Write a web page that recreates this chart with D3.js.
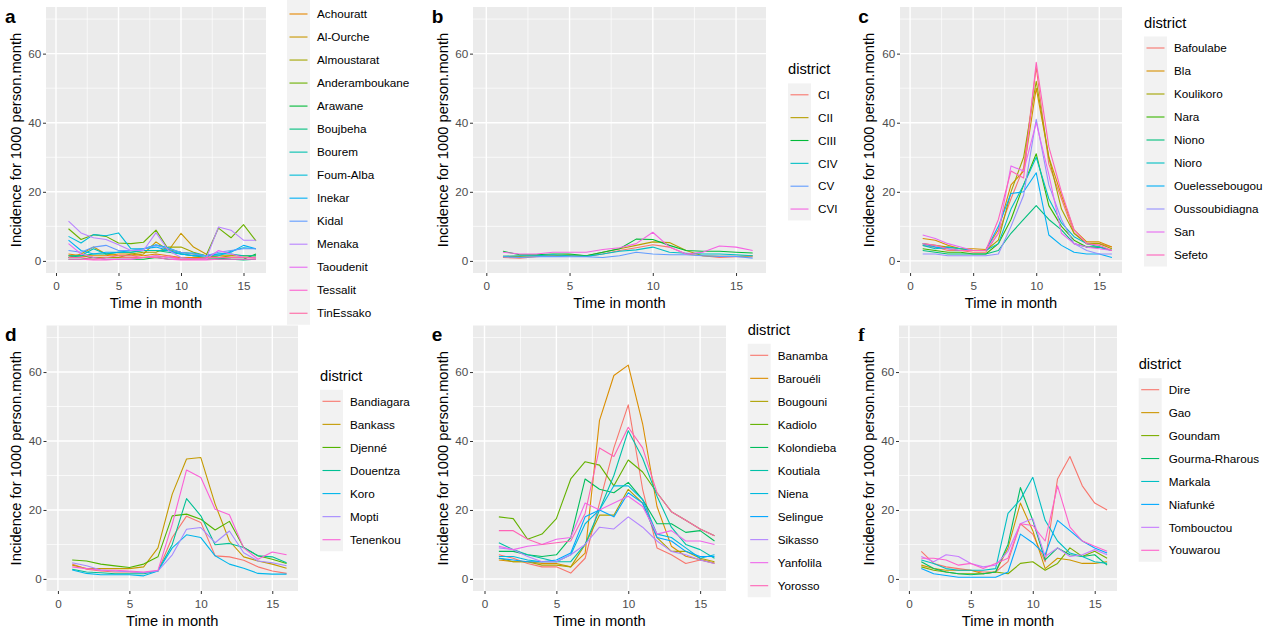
<!DOCTYPE html>
<html><head><meta charset="utf-8">
<script src="https://cdn.jsdelivr.net/npm/d3@7"></script>
<style>
body{margin:0;background:#fff}
svg{display:block}
text{font-family:"Liberation Sans", Arial, Helvetica, sans-serif}
</style>
</head><body>
<svg id="chart" width="1280" height="637"></svg>
<script>
// ---------- data ----------
const months = d3.range(1, 17);
const xTicks = [0, 5, 10, 15];
const yTicks = [0, 20, 40, 60];
const xMinorTicks = [2.5, 7.5, 12.5];
const yMinorTicks = [10, 30, 50, 70];
const xTitle = "Time in month";
const yTitle = "Incidence for 1000 person.month";
const legendTitle = "district";

const districtsA = ["Abeibara","Achouratt","Al-Ourche","Almoustarat","Anderamboukane","Arawane","Boujbeha","Bourem","Foum-Alba","Inekar","Kidal","Menaka","Taoudenit","Tessalit","TinEssako"];
const incidenceA = [
  [1.5,1.5,1,1,1,1,1,1.5,1,1,0.8,0.8,1,1,1,1],
  [2,1.5,1.5,1.5,2,2,1.5,2,1.5,1,1,1,1.5,1.5,1.5,1.5],
  [1,2,4,2,1.5,1.5,2,5.5,3,8,4,2,1,1,1,1],
  [1.5,1.5,1,1,1,2,2.5,2.5,4,4,2.5,1.5,1,1.5,1.5,1.5],
  [9.3,6.2,7.6,7.1,5.2,5,5.4,8.9,3.3,2.5,2,1.5,9.5,6.7,10.5,5.8],
  [0.5,0.5,1,0.5,0.5,0.5,0.5,1,0.5,0.5,0.5,0.5,0.5,0.5,0.5,2],
  [1,1.5,2,2,2.5,2.5,3,3,2.5,2,1.5,1,0.8,0.5,0.3,0.5],
  [1.5,1.5,3.5,2,2.5,2.5,3,3,3,2,1.5,1.5,2,2,1.5,1.5],
  [7.1,5.2,7.6,7.3,8.1,3.5,3.5,4.7,3.8,2.3,2.3,1.5,1.5,2.8,3.8,3.5],
  [6,3,2,2.5,2.5,3,3.5,4,3,2,1.5,1.5,2,2.5,4.5,3.5],
  [3,2.5,4,4.5,3,3,3.5,4.5,3.5,2.5,2,1.5,2.5,3,3.5,3.5],
  [11.5,8.1,6.7,6.2,4.7,3,3,8.2,3,1,0.5,0.5,9.8,8.9,6,6],
  [5,2,1,0.5,0.5,0.5,1,1.5,1,0.5,0.5,0.5,3,2,1,1],
  [0.5,0.5,0.3,0.3,0.5,0.5,1,1,0.5,0.3,0.3,0.3,0.5,0.5,0.5,0.5],
  [1,1,0.5,1,1.5,1.5,1,1,1.5,0.5,0.5,1,1,1,1,0.8]
];

const districtsB = ["CI","CII","CIII","CIV","CV","CVI"];
const incidenceB = [
  [1,0.8,1.2,1.5,1.5,1.3,2,3,3.8,4.7,4,2,1.5,1,1.2,1.2],
  [1.3,1.3,1.5,1.5,1.8,1.5,2.5,3.5,4.5,5.5,5.3,3,1.5,1.3,1.3,1.5],
  [2.8,1.8,1.8,2,2,1.5,2.5,3.5,6.3,6.2,4.5,3,2.8,2.8,2.5,2.3],
  [1.3,1.5,1.5,1.8,1.5,1.3,2,2.8,3.2,4,2.5,2.2,2,2,1.8,1.5],
  [1.2,1,1.2,1.3,1.2,1.2,1,1.5,2.5,2,1.8,1.8,1.5,1.3,1.3,0.8],
  [2.5,2,2,2.5,2.5,2.5,3.3,3.8,5,8.3,4,2,2.5,4.3,4,3]
];

const districtsC = ["Bafoulabe","Bla","Koulikoro","Nara","Niono","Nioro","Ouelessebougou","Oussoubidiagna","San","Sefeto"];
const incidenceC = [
  [4.5,4,3,3,2.5,2.5,8,18,27,56,28,18,8,5,5,4],
  [6.5,6,4.5,3.5,3.5,3.3,9,22,26,50,30,19,9,5.5,5.5,4],
  [5,4.5,4,3.5,3,3,6,20,30,52,30,15,8,5,5,3.5],
  [3.5,3,2.5,2.5,2,2,5,12,22,31,16,10,6,4,4,3],
  [3,2.5,2,2,2,2,3,8,12,16,12,9,5,4,4,3],
  [4.5,3.5,4,3.5,3,3,5,15,22,30,18,11,7,5,4,3],
  [5,4,3.5,3,3,3,10,19.5,20,25.5,7.5,4.5,2.5,2,2,1],
  [2,2,1.5,1.5,1.5,1.5,2,10,19,41,22,12,5,3,2,2],
  [7.5,6.5,5,4,3,3,8,27.5,26,40,25,8,5,4,3.5,3],
  [5,4.5,3.5,3,3,3,12,26,24,57.5,33,20,9,5,4.5,3]
];

const districtsD = ["Bandiagara","Bankass","Djenné","Douentza","Koro","Mopti","Tenenkou"];
const incidenceD = [
  [4.3,2.8,2.3,2,2,1.8,2.3,12,18.2,16.4,6.7,6.4,5.4,3.5,2.3,1.6],
  [4,3,3,3,3,3.5,9,24.6,34.8,35.2,21.7,11,6.4,5.2,4.3,3.1],
  [5.5,5.2,4.3,3.8,3.3,4.3,6.4,18.3,18.8,17.3,14.2,16.7,9.1,6.7,5.7,4.5],
  [2.8,2,1.8,1.5,1.5,1.5,2.3,10,23.3,18.3,9.9,10.3,9.1,6.7,6.4,4.7],
  [2.6,1.6,1.2,1.2,1.2,0.9,2.3,9,12.8,12,6.7,4.3,3.1,1.6,1.4,1.4],
  [4.7,3.8,2.6,2.3,2.1,1.8,2.3,7,14.4,14.9,10.5,13.9,7.6,5.2,4.7,3.8],
  [3.5,3,2.5,2.5,2.3,2,2.5,15.9,31.6,29.4,20.2,18.6,9,5.7,7.8,7]
];

const districtsE = ["Banamba","Barouéli","Bougouni","Kadiolo","Kolondieba","Koutiala","Niena","Selingue","Sikasso","Yanfolila","Yorosso"];
const incidenceE = [
  [7,6,4.5,3.5,3.5,1.7,6,22,38,50.5,26,9,7,4.5,5.5,4.5],
  [5.5,5,5,4.5,4.5,3.5,7.5,46,59,62,45,21,9.5,6.6,5.6,4.6],
  [6,5,5,4,4,3.5,10,18.5,18.5,26,22,12,8,8,6,5],
  [18,17.5,11.5,13,17.5,29,34,33,27,34.5,31,25,19.5,17,14.5,12.5],
  [8,8,7,6.5,7,12,29,26,25,28,23,16,16,13.5,14,11],
  [10.5,8.5,7,6,5,5,10,20,30,43,35,24,15,10,8.5,6],
  [6.5,6.5,5.5,5,5,7,16,20,27,27,23,13,12,9,6,7],
  [6,5.5,5,5,5.5,7.5,18,20,18,25,22,12,11,8,6.5,6.5],
  [9,8.5,6.5,5,5,7,10,15,14.5,18,15,11,8,7,5.5,4.5],
  [9.5,8.5,9.5,10,11.5,12,22,20,22,24,21,13,14,11,11,10],
  [14,14,11.5,10,10.5,11,19,38,35.5,44,38,25,19.5,17,14.5,12.5]
];

const districtsF = ["Dire","Gao","Goundam","Gourma-Rharous","Markala","Niafunké","Tombouctou","Youwarou"];
const incidenceF = [
  [8,4.5,3.5,3,2.5,2,2,5,16,13,5,29,35.5,27,22,20],
  [4,3,2.5,2.5,2.5,1.5,2,9,22,14,3,6,5.5,4.5,4.5,5],
  [3.5,2.5,2,1.5,1.5,1.5,2,1.5,4.5,5,2.5,4.5,9,6.5,8,6],
  [5,3,2,1.5,1.2,1.5,2,10,26.5,17,5.5,9,7,6.5,7,4],
  [5.5,4.5,3,2.5,2.5,2.5,3,19,23,29.5,17,11,7.5,6.5,5,4.5],
  [3,1.5,1,0.5,0.5,0.5,0.5,2,13,10.5,7,17,14,11,9,7.5],
  [6.5,5,7,6.5,4.5,3.5,4,8,16,17.5,6.5,9,6.5,7,8.5,7],
  [6,6,5.5,4,4.5,3,4.5,6,16,15.5,11,27,15,11,9.5,8]
];

// ggplot2 default hue palettes
const hue6 = ["#F8766D","#B79F00","#00BA38","#00BFC4","#619CFF","#F564E3"];
const hue7 = ["#F8766D","#C49A00","#53B400","#00C094","#00B6EB","#A58AFF","#FB61D7"];
const hue8 = ["#F8766D","#CD9600","#7CAE00","#00BE67","#00BFC4","#00A9FF","#C77CFF","#FF61CC"];
const hue10 = ["#F8766D","#D89000","#A3A500","#39B600","#00BF7D","#00BFC4","#00B0F6","#9590FF","#E76BF3","#FF62BC"];
const hue11 = ["#F8766D","#DB8E00","#AEA200","#64B200","#00BD5C","#00C1A7","#00BADE","#00A6FF","#B385FF","#EF67EB","#FF63B6"];
const hue15 = ["#F8766D","#E58700","#C99800","#A3A500","#6BB100","#00BA38","#00BF7D","#00C0AF","#00BCD8","#00B0F6","#619CFF","#B983FF","#E76BF3","#FD61D1","#FF67A4"];

// ---------- layout ----------
const panels = [
  {tag:"a", names:districtsA, values:incidenceA, colors:hue15, box:[46,266,7,273], sub:[0,0], leg:{x:287, y0:-9.02, step:23.02}},
  {tag:"b", names:districtsB, values:incidenceB, colors:hue6, box:[473,766,7,273], sub:[426.67,0], leg:{x:788, y0:94.8, step:22.85}},
  {tag:"c", names:districtsC, values:incidenceC, colors:hue10, box:[900,1122,7,273], sub:[853.33,0], leg:{x:1144, y0:48, step:23}},
  {tag:"d", names:districtsD, values:incidenceD, colors:hue7, box:[46.5,298,325.5,591], sub:[0,318.5], leg:{x:320, y0:401.3, step:23.07}},
  {tag:"e", names:districtsE, values:incidenceE, colors:hue11, box:[473,726,325.5,591], sub:[426.67,318.5], leg:{x:747.7, y0:355.3, step:23.04}},
  {tag:"f", names:districtsF, values:incidenceF, colors:hue8, box:[899,1117,325.5,591], sub:[853.33,318.5], leg:{x:1138.7, y0:389.7, step:22.94}, serif:true}
];

const svg = d3.select("#chart");
svg.append("rect").attr("width",1280).attr("height",637).attr("fill","#fff");

panels.forEach(p => {
  const [L, R, T, B] = p.box;
  const x = d3.scaleLinear().domain([-0.8, 16.8]).range([L, R]);
  const y = d3.scaleLinear().domain([-3.5, 73.5]).range([B, T]);
  const g = svg.append("g");

  g.append("rect").attr("x", L).attr("y", T).attr("width", R - L).attr("height", B - T).attr("fill", "#EBEBEB");

  // minor grid
  g.selectAll(null).data(xMinorTicks).join("line")
    .attr("x1", d => x(d)).attr("x2", d => x(d)).attr("y1", T).attr("y2", B)
    .attr("stroke", "#fff").attr("stroke-width", 0.7);
  g.selectAll(null).data(yMinorTicks).join("line")
    .attr("y1", d => y(d)).attr("y2", d => y(d)).attr("x1", L).attr("x2", R)
    .attr("stroke", "#fff").attr("stroke-width", 0.7);
  // major grid
  g.selectAll(null).data(xTicks).join("line")
    .attr("x1", d => x(d)).attr("x2", d => x(d)).attr("y1", T).attr("y2", B)
    .attr("stroke", "#fff").attr("stroke-width", 1.4);
  g.selectAll(null).data(yTicks).join("line")
    .attr("y1", d => y(d)).attr("y2", d => y(d)).attr("x1", L).attr("x2", R)
    .attr("stroke", "#fff").attr("stroke-width", 1.4);

  // axes
  const ax = g.append("g").attr("transform", `translate(0,${B})`)
    .call(d3.axisBottom(x).tickValues(xTicks).tickSize(3).tickPadding(5.5));
  const ay = g.append("g").attr("transform", `translate(${L},0)`)
    .call(d3.axisLeft(y).tickValues(yTicks).tickSize(3).tickPadding(1.8));
  [ax, ay].forEach(a => {
    a.select(".domain").remove();
    a.selectAll(".tick line").attr("stroke", "#333333").attr("stroke-width", 1);
    a.selectAll(".tick text").attr("fill", "#4D4D4D").style("font-size", "11.7px")
      .style("font-family", "'Liberation Sans', Arial, sans-serif");
  });

  // lines
  const line = d3.line().x((d, i) => x(months[i])).y(d => y(d));
  const clipId = "clip-" + p.tag;
  g.append("clipPath").attr("id", clipId).append("rect")
    .attr("x", L).attr("y", T).attr("width", R - L).attr("height", B - T);
  g.append("g").attr("clip-path", `url(#${clipId})`)
    .selectAll("path").data(p.values).join("path")
    .attr("d", line).attr("fill", "none")
    .attr("stroke", (d, i) => p.colors[i]).attr("stroke-width", 1.1)
    .attr("stroke-linejoin", "round");

  // axis titles
  g.append("text").attr("x", (L + R) / 2).attr("y", B + 35)
    .attr("text-anchor", "middle").style("font-size", "14.67px").attr("fill", "#000").text(xTitle);
  g.append("text")
    .attr("transform", `translate(${p.sub[0] + 21},${(T + B) / 2}) rotate(-90)`)
    .attr("text-anchor", "middle").style("font-size", "14.67px").attr("fill", "#000").text(yTitle);

  // tag
  g.append("text").attr("x", p.sub[0] + 5).attr("y", p.sub[1] + 22.5)
    .style("font-size", "19px").style("font-weight", "bold")
    .style("font-family", p.serif ? "'Liberation Serif', 'Times New Roman', serif" : "'Liberation Sans', Arial, sans-serif")
    .attr("fill", "#000").text(p.tag);

  // legend (entries that would fall above the page edge, as in the reference, are not drawn)
  const lg = p.leg;
  const n = p.names.length;
  const kw = 23;
  const titleY = lg.y0 - 20.5;
  if (titleY > 12) {
    g.append("text").attr("x", lg.x).attr("y", titleY)
      .style("font-size", "14.67px").attr("fill", "#000").text(legendTitle);
  }
  const top = Math.max(0, lg.y0 - lg.step / 2);
  g.append("rect").attr("x", lg.x).attr("y", top)
    .attr("width", kw).attr("height", lg.y0 + (n - 0.5) * lg.step - top).attr("fill", "#F2F2F2");
  const visible = p.names.map((d, i) => ({name: d, i})).filter(o => lg.y0 + o.i * lg.step > 6);
  const items = g.selectAll(null).data(visible).join("g")
    .attr("transform", o => `translate(${lg.x},${lg.y0 + o.i * lg.step})`);
  items.append("line").attr("x1", 2.5).attr("x2", kw - 2.5).attr("y1", 0).attr("y2", 0)
    .attr("stroke", o => p.colors[o.i]).attr("stroke-width", 1.1);
  items.append("text").attr("x", 30).attr("y", 0).attr("dy", "0.36em")
    .style("font-size", "11.7px").attr("fill", "#000").text(o => o.name);
});
</script>
</body></html>
